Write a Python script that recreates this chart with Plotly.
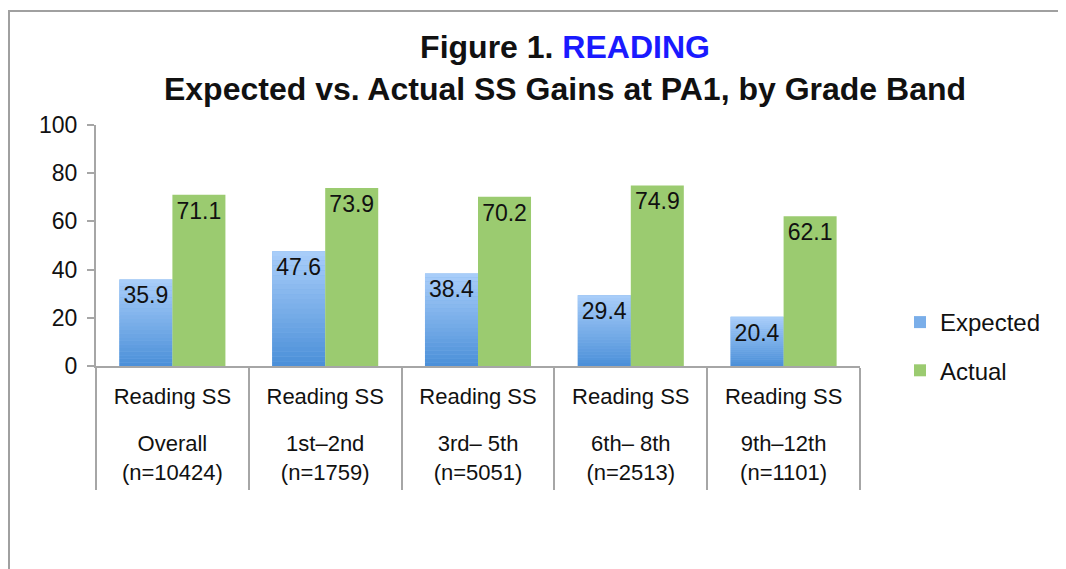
import plotly.graph_objects as go

categories = ["Overall", "1st–2nd", "3rd– 5th", "6th– 8th", "9th–12th"]
top_labels = ["Reading SS"] * 5
sub_labels = ["Overall<br>(n=10424)", "1st–2nd<br>(n=1759)", "3rd– 5th<br>(n=5051)",
              "6th– 8th<br>(n=2513)", "9th–12th<br>(n=1101)"]
expected = [35.9, 47.6, 38.4, 29.4, 20.4]
actual = [71.1, 73.9, 70.2, 74.9, 62.1]
y_ticks = [0, 20, 40, 60, 80, 100]

FONT = "Liberation Sans, Arial, Helvetica, sans-serif"
GRAY = "#a6a6a6"
BLUE_TOP = (170, 206, 250)
BLUE_BOT = (74, 143, 216)
GREEN = "#9bcb70"
N_SEG = 24

# page offset (body margin of the html page)
OFF = 8
W, H = 1066 - OFF, 569 - OFF
L, T = 96 - OFF, 125 - OFF
R = W - (860 - OFF)
B = H - (366 - OFF)
pw, ph = W - L - R, H - T - B


def px_x(p):
    return (p - OFF - L) / pw


def px_y(p):
    return (H - B - (p - OFF)) / ph


def mix(t):
    c = [round(BLUE_BOT[i] + (BLUE_TOP[i] - BLUE_BOT[i]) * t) for i in range(3)]
    return f"rgb({c[0]},{c[1]},{c[2]})"


fig = go.Figure()
# base Expected bars (legend entry)
fig.add_trace(go.Bar(
    x=categories, y=expected, name="Expected", offsetgroup="e",
    marker=dict(color=mix(0.5), line=dict(width=0)),
    legendgroup="a", hoverinfo="skip",
))
# gradient slices over the Expected bars
for k in range(N_SEG):
    fig.add_trace(go.Bar(
        x=categories, y=[v / N_SEG for v in expected],
        base=[v * k / N_SEG for v in expected], offsetgroup="e",
        marker=dict(color=mix((k + 0.5) / N_SEG), line=dict(width=0)),
        showlegend=False, hoverinfo="skip", legendgroup="a",
    ))
# Expected value labels
fig.add_trace(go.Bar(
    x=categories, y=expected, name="Expected", offsetgroup="e",
    marker=dict(color="rgba(0,0,0,0)", line=dict(width=0)),
    text=[f"{v:.1f}" for v in expected], textposition="inside",
    insidetextanchor="end", textangle=0,
    insidetextfont=dict(color="#111111", size=23, family=FONT),
    showlegend=False, legendgroup="a",
))
fig.add_trace(go.Bar(
    x=categories, y=actual, name="Actual", offsetgroup="a",
    marker=dict(color=GREEN, line=dict(width=0)),
    text=[f"{v:.1f}" for v in actual], textposition="inside",
    insidetextanchor="end", textangle=0,
    insidetextfont=dict(color="#111111", size=23, family=FONT),
    legendgroup="b",
))
# invisible helpers so the label axes are drawn
for ax in ("x2", "x3"):
    fig.add_trace(go.Scatter(
        x=list(range(5)), y=[0] * 5, xaxis=ax, yaxis="y", mode="markers",
        marker=dict(opacity=0, size=1), showlegend=False, hoverinfo="skip",
    ))

fig.update_layout(
    width=W, height=H,
    margin=dict(l=L, r=R, t=T, b=B, pad=0),
    paper_bgcolor="white", plot_bgcolor="white",
    font=dict(family=FONT, color="#111111", size=22),
    barmode="group", bargap=0.306, bargroupgap=0,
    uniformtext=dict(minsize=23, mode="show"),
    title=dict(
        text="<b>Figure 1. <span style='color:#1a1aff'>READING</span><br>"
             "Expected vs. Actual SS Gains at PA1, by Grade Band</b>",
        x=(565 - OFF) / W, xanchor="center", xref="container",
        y=1 - 50 / H, yanchor="top", yref="container",
        font=dict(family=FONT, size=32, color="#111111"),
    ),
    showlegend=True,
    legend=dict(
        x=px_x(900), xanchor="left", y=px_y(300), yanchor="top",
        font=dict(size=24, family=FONT, color="#111111"),
        traceorder="grouped", tracegroupgap=14,
        bgcolor="rgba(0,0,0,0)", itemwidth=30,
    ),
    xaxis=dict(
        type="category", categoryorder="array", categoryarray=categories,
        showticklabels=False, ticks="outside", tickson="boundaries",
        ticklen=122, tickwidth=2, tickcolor=GRAY,
        showline=True, linecolor=GRAY, linewidth=2,
        showgrid=False, zeroline=False, range=[-0.5, 4.5],
    ),
    xaxis2=dict(
        overlaying="x", anchor="y", side="bottom", range=[-0.5, 4.5],
        tickmode="array", tickvals=list(range(5)), ticktext=top_labels,
        ticks="outside", ticklen=11, tickcolor="rgba(0,0,0,0)",
        showline=False, showgrid=False, zeroline=False,
        tickfont=dict(size=22, family=FONT, color="#111111"),
    ),
    xaxis3=dict(
        overlaying="x", anchor="y", side="bottom", range=[-0.5, 4.5],
        tickmode="array", tickvals=list(range(5)), ticktext=sub_labels,
        ticks="outside", ticklen=58, tickcolor="rgba(0,0,0,0)",
        showline=False, showgrid=False, zeroline=False,
        tickfont=dict(size=22, family=FONT, color="#111111"),
    ),
    yaxis=dict(
        range=[0, 100], tickmode="array", tickvals=y_ticks,
        ticks="outside", ticklen=7, tickwidth=2, tickcolor=GRAY,
        showline=True, linecolor=GRAY, linewidth=2,
        showgrid=False, zeroline=False,
        tickfont=dict(size=23, family=FONT, color="#111111"),
        ticklabelstandoff=5,
    ),
    shapes=[dict(
        type="rect", xref="paper", yref="paper",
        x0=px_x(9), x1=px_x(1090), y0=px_y(600), y1=px_y(11),
        line=dict(color="#a0a0a0", width=2), fillcolor="rgba(0,0,0,0)",
        layer="below",
    )],
)

fig.write_html("out.html")
